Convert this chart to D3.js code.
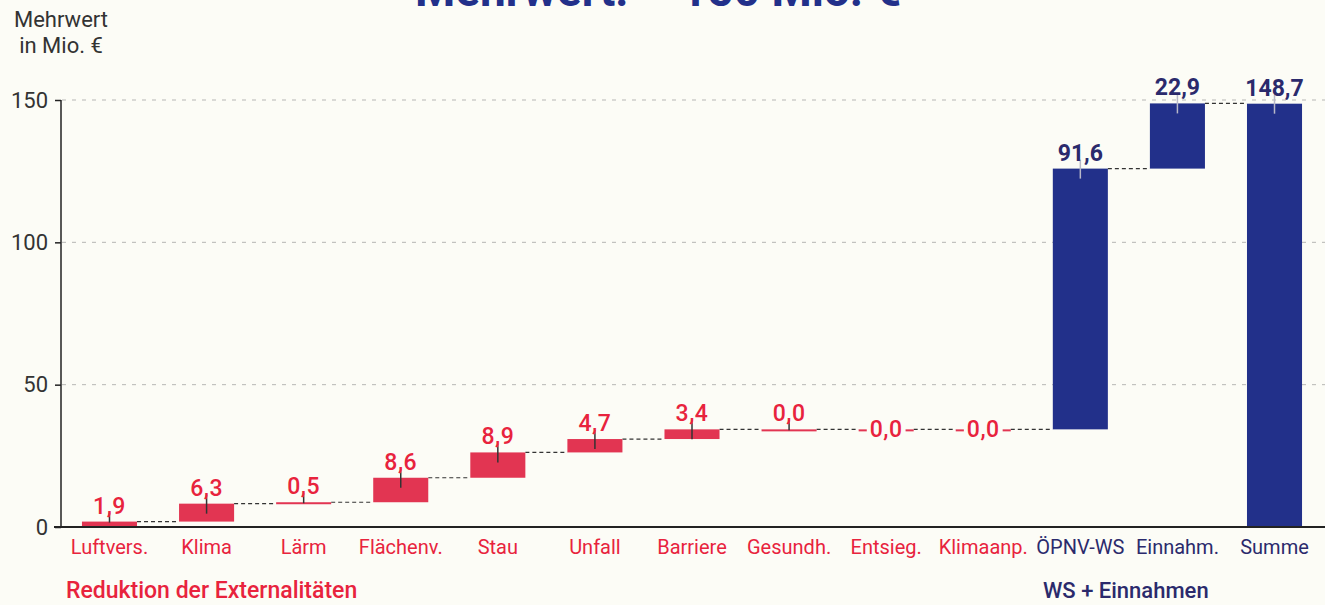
<!DOCTYPE html>
<html>
<head>
<meta charset="utf-8">
<script src="https://cdn.jsdelivr.net/npm/d3@7"></script>
<style>
  body { margin: 0; background: #fcfcf6; }
  svg { display: block; font-family: Roboto, "Noto Sans", sans-serif; }
</style>
</head>
<body>
<svg id="chart" width="1325" height="605"></svg>
<script>
// data
const categories = ["Luftvers.", "Klima", "Lärm", "Flächenv.", "Stau", "Unfall", "Barriere",
  "Gesundh.", "Entsieg.", "Klimaanp.", "ÖPNV-WS", "Einnahm.", "Summe"];
const values = [1.9, 6.3, 0.5, 8.6, 8.9, 4.7, 3.4, 0.0, 0.0, 0.0, 91.6, 22.9, 148.7];
const groups = ["ext", "ext", "ext", "ext", "ext", "ext", "ext", "ext", "ext", "ext", "ws", "ws", "total"];
const inlineLabel = ["Entsieg.", "Klimaanp."];
const yTicks = [0, 50, 100, 150];

const red = "#e23552", redText = "#e8233d";
const navy = "#22308a", navyText = "#2b2a6c";
const bg = "#fcfcf6";

const svg = d3.select("#chart");

const x = d3.scaleBand()
  .domain(categories)
  .range([61, 1323])
  .paddingInner(0.433)
  .paddingOuter(0.216);

const y = d3.scaleLinear()
  .domain([0, 150])
  .range([527, 100]);

// running start/end for each bar
let run = 0;
const bars = categories.map(function(c, i) {
  let start, end;
  if (groups[i] == "total") { start = 0; end = values[i]; }
  else { start = run; end = run + values[i]; run = end; }
  return {cat: c, value: values[i], start: start, end: end, group: groups[i]};
});

// title, cut off at the top edge like in the scan
svg.append("text")
  .attr("x", 658).attr("y", 6)
  .attr("text-anchor", "middle")
  .style("font-size", "46px").style("font-weight", 700)
  .style("fill", navy)
  .text("Mehrwert: ~ 150 Mio. €");

// grid
svg.append("g").selectAll("line")
  .data(yTicks.filter(d => d > 0))
  .enter().append("line")
  .attr("x1", 62).attr("x2", 1325)
  .attr("y1", d => y(d)).attr("y2", d => y(d))
  .style("stroke", "#8a8a8a").style("stroke-width", "1px")
  .style("stroke-dasharray", "4,6").style("opacity", 0.6);

// y axis
const yAxis = svg.append("g")
  .attr("transform", "translate(61,0)")
  .call(d3.axisLeft(y).tickValues(yTicks).tickSize(6).tickPadding(7));
yAxis.select(".domain").remove();
yAxis.append("line")
  .attr("x1", 0).attr("x2", 0).attr("y1", y(150)).attr("y2", y(0))
  .style("stroke", "#222").style("stroke-width", "1.5px");
yAxis.selectAll(".tick line").style("stroke", "#222").style("stroke-width", "1.5px");
yAxis.selectAll(".tick text")
  .style("font-size", "22px").style("fill", "#333").style("font-family", "Roboto, sans-serif");

svg.append("text")
  .attr("text-anchor", "middle").attr("x", 61)
  .style("font-size", "22px").style("fill", "#333")
  .selectAll("tspan").data(["Mehrwert", "in Mio. €"])
  .enter().append("tspan")
  .attr("x", 61).attr("y", (d, i) => 27 + i * 26)
  .text(d => d);

// connectors
svg.append("g").selectAll("line")
  .data(bars.slice(0, bars.length - 1))
  .enter().append("line")
  .attr("x1", d => x(d.cat) + x.bandwidth())
  .attr("x2", (d, i) => x(categories[i + 1]))
  .attr("y1", d => y(d.end)).attr("y2", d => y(d.end))
  .style("stroke", "#333").style("stroke-width", "1.2px")
  .style("stroke-dasharray", "4,3");

// bars
svg.append("g").selectAll("rect")
  .data(bars)
  .enter().append("rect")
  .attr("x", d => x(d.cat))
  .attr("width", x.bandwidth())
  .attr("y", d => y(Math.max(d.start, d.end)))
  .attr("height", d => Math.max(2, Math.abs(y(d.start) - y(d.end))))
  .style("fill", d => d.group == "ext" ? red : navy);

// value labels
const fmt = d => d.toFixed(1).replace(".", ",");
const lab = svg.append("g").selectAll("g")
  .data(bars)
  .enter().append("g");

lab.filter(d => inlineLabel.indexOf(d.cat) < 0).each(function(d) {
  const g = d3.select(this);
  const cx = x(d.cat) + x.bandwidth() / 2;
  const top = y(d.end);
  g.append("line")
    .attr("x1", cx).attr("x2", cx)
    .attr("y1", top - 9).attr("y2", top + (d.value > 2 ? 10 : 1))
    .style("stroke", d.group == "ext" ? "#333" : "#b8b8c8")
    .style("stroke-width", "1.5px");
  g.append("text")
    .attr("x", cx).attr("y", top - 8)
    .attr("text-anchor", "middle")
    .style("font-size", "23px")
    .style("letter-spacing", d.group == "ext" ? "0.5px" : "0px")
    .style("font-weight", d.group == "ext" ? 500 : 700)
    .style("fill", d.group == "ext" ? redText : navyText)
    .text(fmt(d.value));
});

lab.filter(d => inlineLabel.indexOf(d.cat) >= 0).each(function(d) {
  const g = d3.select(this);
  const cx = x(d.cat) + x.bandwidth() / 2;
  const box = g.append("rect");
  const t = g.append("text")
    .attr("x", cx).attr("y", y(d.end) + 8)
    .attr("text-anchor", "middle")
    .style("font-size", "23px").style("font-weight", 500)
    .style("letter-spacing", "0.5px")
    .style("fill", redText)
    .text(fmt(d.value));
  const bb = t.node().getBBox();
  box.attr("x", bb.x - 3).attr("y", bb.y)
    .attr("width", bb.width + 6).attr("height", bb.height)
    .style("fill", bg);
});

// x axis
const xAxis = svg.append("g")
  .attr("transform", "translate(0,527)")
  .call(d3.axisBottom(x).tickSize(0).tickPadding(13));
xAxis.select(".domain").remove();
xAxis.append("line")
  .attr("x1", 54).attr("x2", 1325)
  .style("stroke", "#222").style("stroke-width", "2px");
xAxis.selectAll(".tick text")
  .style("font-size", "20px").style("font-family", "Roboto, sans-serif")
  .style("fill", (d, i) => groups[i] == "ext" ? redText : navyText);

// group labels
svg.append("text")
  .attr("x", 66).attr("y", 598)
  .style("font-size", "23px").style("font-weight", 500)
  .style("fill", redText)
  .text("Reduktion der Externalitäten");
svg.append("text")
  .attr("x", 1043).attr("y", 598)
  .style("font-size", "22px").style("font-weight", 500)
  .style("fill", navyText)
  .text("WS + Einnahmen");
</script>
</body>
</html>
